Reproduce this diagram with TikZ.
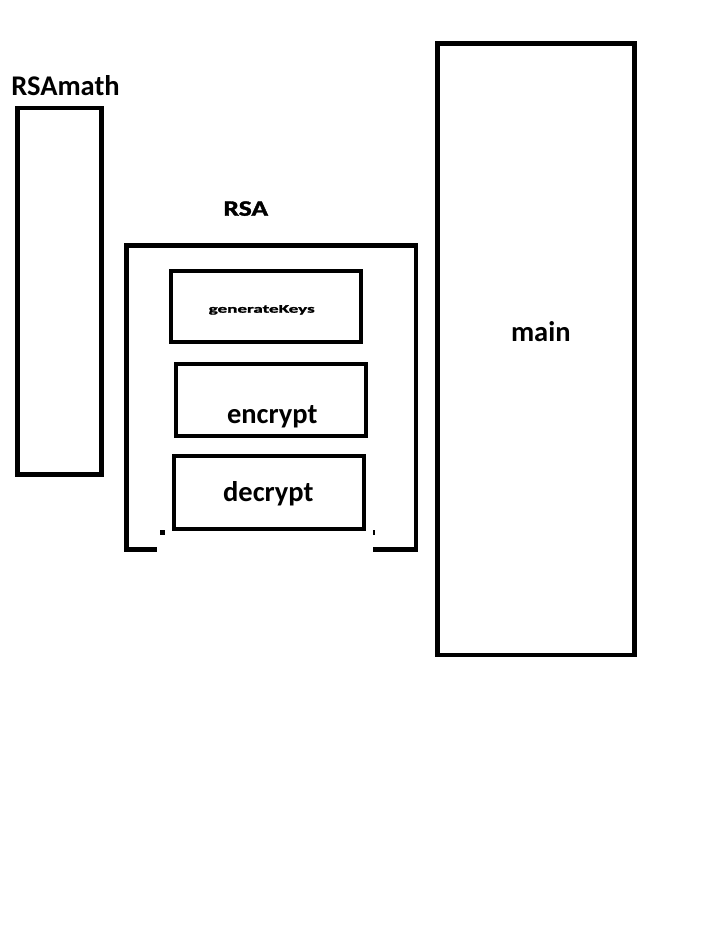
\documentclass[tikz,border=0pt]{standalone}
\usepackage{fontspec}
\setmainfont{Carlito}
\newfontfamily\heavyfont{Carlito}[BoldFeatures={FakeBold=1.5}]

\begin{document}
\begin{tikzpicture}[x=1pt,y=-1pt,
    bigbox/.style={line width=4.7pt},
    funcbox/.style={line width=4pt},
    lbl/.style={font=\bfseries\fontsize{28.5}{30}\selectfont,anchor=base,inner sep=0pt},
    smalllbl/.style={anchor=base,inner sep=0pt}]
    \useasboundingbox (0,0) rectangle (702,936);
    % modules
    \draw[bigbox] (17.5,108) rectangle (101.3,474.5);
    \draw[bigbox] (437.5,43.5) rectangle (634.5,655);
    \draw[bigbox] (156.7,549.5) -| (126.5,245.7) -| (416,549.5) -- (373.3,549.5);
    \fill (159.5,529.5) rectangle (164.5,534.5);
    \fill (373.3,529.5) rectangle (374.8,534.5);
    % functions of RSA
    \draw[funcbox] (171,271) rectangle (361,342);
    \draw[funcbox] (175.5,363.5) rectangle (365.5,436);
    \draw[funcbox] (173.5,456) rectangle (364,528.5);
    % labels
    \node[lbl] (rsamath) at (65.5,95.7) {RSAmath};
    \node[smalllbl,font=\heavyfont\bfseries\fontsize{22}{24}\selectfont,xscale=1.25] (rsa) at (245.8,215.7) {RSA};
    \node[smalllbl,font=\heavyfont\bfseries\fontsize{11.5}{13}\selectfont,xscale=1.66] (genkeys) at (261.7,312.7) {generateKeys};
    \node[lbl] (encrypt) at (272.2,423.3) {encrypt};
    \node[lbl] (decrypt) at (268.3,501) {decrypt};
    \node[lbl] (main) at (540.8,341.7) {main};
\end{tikzpicture}
\end{document}
